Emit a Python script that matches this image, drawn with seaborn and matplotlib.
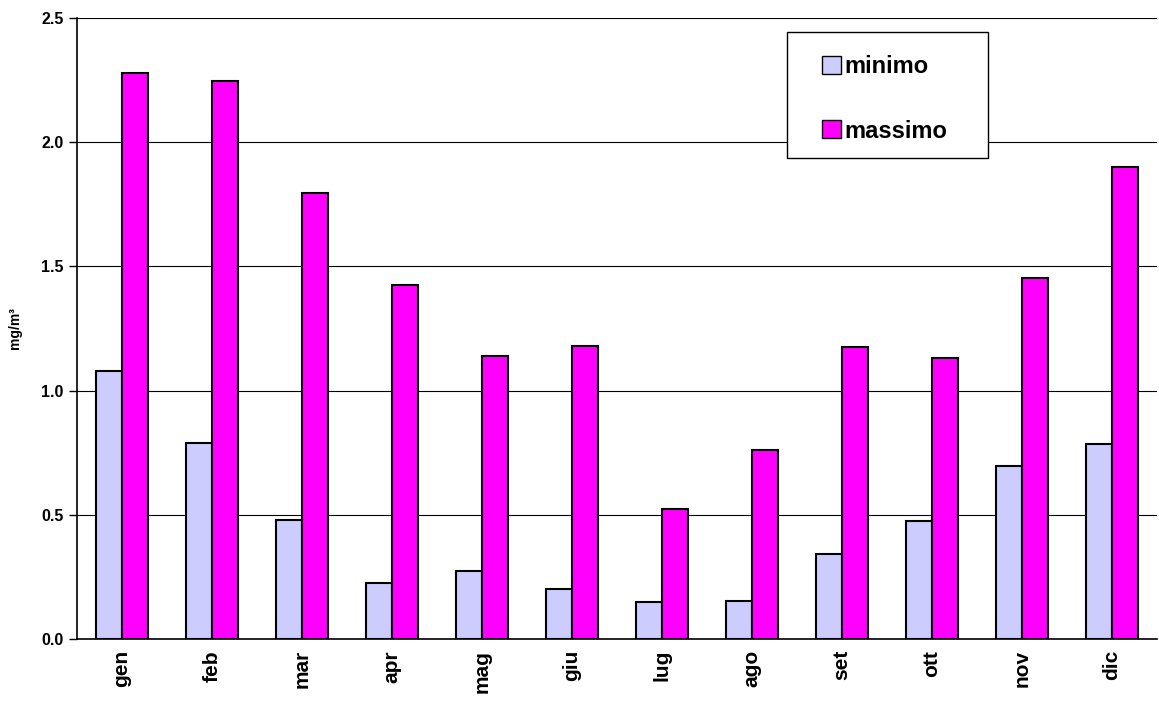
import numpy as np
import pandas as pd
import matplotlib.pyplot as plt
import seaborn as sns
from matplotlib.patches import Rectangle

mesi = ['gen', 'feb', 'mar', 'apr', 'mag', 'giu', 'lug', 'ago', 'set', 'ott', 'nov', 'dic']
minimo = [1.08, 0.79, 0.48, 0.225, 0.274, 0.20, 0.149, 0.153, 0.342, 0.475, 0.696, 0.785]
massimo = [2.28, 2.245, 1.795, 1.425, 1.139, 1.18, 0.523, 0.761, 1.176, 1.131, 1.453, 1.90]

df = pd.DataFrame({
    'mese': mesi * 2,
    'valore': minimo + massimo,
    'serie': ['minimo'] * len(mesi) + ['massimo'] * len(mesi),
})

sns.set_style('white')
plt.rcParams['font.family'] = ['Liberation Sans', 'DejaVu Sans']
plt.rcParams['text.color'] = 'black'
plt.rcParams['xtick.color'] = 'black'
plt.rcParams['ytick.color'] = 'black'
plt.rcParams['axes.labelcolor'] = 'black'

fig = plt.figure(figsize=(11.59, 7.06), dpi=100)
ax = fig.add_axes([0.0664, 0.0949, 0.9316, 0.8796])

sns.barplot(data=df, x='mese', y='valore', hue='serie', order=mesi,
            hue_order=['minimo', 'massimo'],
            palette={'minimo': '#CCCCFF', 'massimo': '#FF00FF'},
            width=0.58, edgecolor='black', linewidth=1.5, saturation=1,
            errorbar=None, ax=ax, zorder=3)

ax.set_ylim(0, 2.5)
ax.set_xlim(-0.5, len(mesi) - 0.5)
ax.set_yticks(np.arange(0, 2.51, 0.5))
ax.set_yticklabels([f'{v:.1f}' for v in np.arange(0, 2.51, 0.5)],
                   fontsize=11.5, fontweight='bold')
ax.yaxis.grid(True, color='black', linewidth=0.8, zorder=0)
ax.set_axisbelow(True)

ax.set_xticks(np.arange(len(mesi)))
ax.set_xticklabels(mesi, rotation=90, fontsize=15, fontweight='bold')
ax.tick_params(axis='x', length=0, pad=8)
ax.set_xticks(np.arange(-0.5, len(mesi), 1), minor=True)
ax.tick_params(axis='x', which='minor', length=6, width=1, direction='out', color='black')
ax.tick_params(axis='y', length=6, width=1, direction='out', color='black', left=True)

for s in ['top', 'right']:
    ax.spines[s].set_visible(False)
for s in ['left', 'bottom']:
    ax.spines[s].set_color('black')
    ax.spines[s].set_linewidth(1.2)

ax.set_xlabel('')
ax.set_ylabel('mg/m³', fontsize=10, fontweight='bold', labelpad=14)

# legend box drawn separately so the padding matches the original
box = Rectangle((0.6574, 0.7746), 0.1861, 0.2029, transform=ax.transAxes,
                facecolor='white', edgecolor='black', linewidth=1.0, zorder=5)
ax.add_patch(box)
leg = ax.legend(loc='upper left', bbox_to_anchor=(0.6898, 0.940), frameon=False,
                prop={'weight': 'bold', 'size': 17}, handlelength=0.8,
                handleheight=0.8, handletextpad=0.15, labelspacing=1.75,
                borderpad=0, borderaxespad=0)
leg.set_zorder(6)
for h in leg.legend_handles:
    h.set_edgecolor('black')
    h.set_linewidth(1.0)

fig.savefig('out.png', dpi=100)
